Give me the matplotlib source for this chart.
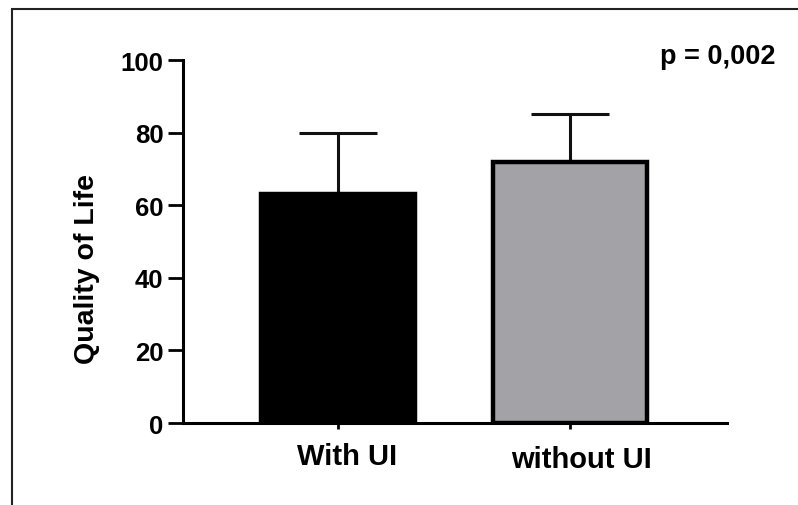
import matplotlib.pyplot as plt
from matplotlib.patches import Rectangle
from matplotlib.transforms import ScaledTranslation

plt.rcParams['font.family'] = ['Liberation Sans', 'DejaVu Sans']
plt.rcParams['font.weight'] = 'bold'

# values
groups = ['With UI', 'without UI']
means = [63, 72]
sd = [17, 13]
colors = ['#000000', '#a2a2a7']
p_label = 'p = 0,002'

fig = plt.figure(figsize=(7.98, 5.06), dpi=100)
ax = fig.add_axes([0.2293, 0.162, 0.6817, 0.7174])

x = range(len(groups))
ax.bar(x, means, width=0.664, color=colors, edgecolor='black', linewidth=3.2, zorder=2)
ax.errorbar(x, means, yerr=[[0, 0], sd], fmt='none', ecolor='#111111',
            elinewidth=2.2, capsize=28, capthick=2.2, zorder=1)

ax.set_xlim(-0.668, 1.677)
ax.set_ylim(0, 100)
ax.set_yticks([0, 20, 40, 60, 80, 100])
ax.set_xticks(list(x))
ax.set_xticklabels(groups)
ax.set_ylabel('Quality of Life', fontsize=20.5, fontweight='bold')
ax.yaxis.set_label_coords(-0.153, 0.427)

for side in ['top', 'right']:
    ax.spines[side].set_visible(False)
for side in ['left', 'bottom']:
    ax.spines[side].set_linewidth(2.2)
ax.tick_params(axis='y', length=11, width=2, labelsize=18.5, pad=3)
ax.tick_params(axis='x', length=4, width=2, labelsize=21, pad=10)

# group labels sit a bit right of the ticks, the second one a little lower
for lbl, (dx, dy) in zip(ax.get_xticklabels(), [(9, 0), (12, -3)]):
    lbl.set_transform(lbl.get_transform() + ScaledTranslation(dx / 100, dy / 100, fig.dpi_scale_trans))

fig.text(0.972, 0.887, p_label, ha='right', va='center', fontsize=19.5, fontweight='bold')

# outer frame
fig.patches.append(Rectangle((12 / 798, -0.05), 1.0, 1 - 10 / 506 + 0.05,
                             transform=fig.transFigure, fill=False,
                             edgecolor='#222222', linewidth=1.5))

fig.savefig('out.png', dpi=100)
